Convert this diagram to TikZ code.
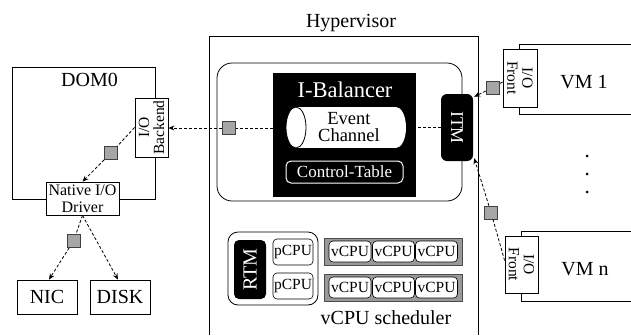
\documentclass[tikz,border=0pt]{standalone}
\usepackage{fontspec}
\setmainfont{Liberation Serif}
\usetikzlibrary{arrows.meta,calc}
\begin{document}
\begin{tikzpicture}[x=1pt,y=-1pt,
  frame/.style={draw=black, line width=0.8pt, inner sep=0pt},
  box/.style={draw=black, line width=0.8pt, fill=white, inner sep=0pt},
  sq/.style={draw=black!75, fill=black!35, line width=0.6pt, minimum size=13pt, inner sep=0pt},
  dl/.style={dash pattern=on 3pt off 2pt, line width=0.8pt},
  tip/.style={-{Stealth[length=6pt,width=5pt]}},
  fbig/.style={font=\fontsize{20}{22}\selectfont},
  fmid/.style={font=\fontsize{15.5}{15}\selectfont, align=center},
  fwhite/.style={text=white},
  cpubox/.style={draw=black, line width=0.6pt, fill=white, rounded corners=4pt, inner sep=0pt, font=\fontsize{15.5}{16}\selectfont},
  bar/.style={draw=black!70, fill=black!40, line width=0.8pt, inner sep=0pt, minimum width=138pt, minimum height=27pt}
]
\useasboundingbox (0,0) rectangle (631,335);

% Hypervisor
\draw[frame] (209,335) -- (209,36) -- (478,36) -- (478,335);
\node[fbig] (hvlbl) at (351,23) {Hypervisor};

% I-Balancer region
\node[frame, rounded corners=15pt, minimum width=245pt, minimum height=138pt] (ibframe) at (339.5,132) {};
\node[fill=black, inner sep=0pt, minimum width=143pt, minimum height=124pt] (ibal) at (344.5,135) {};
\node[font=\fontsize{22.5}{24}\selectfont, fwhite] (iblbl) at (345,90) {I-Balancer};

% Event channel cylinder
\fill[white] (296,107) rectangle (396,148);
\fill[white] (396,127.5) ellipse [x radius=10, y radius=20.5];
\fill[white] (296,127.5) ellipse [x radius=10, y radius=20.5];
\draw[black, line width=0.8pt] (296,127.5) ellipse [x radius=10, y radius=20.5];
\node[font=\fontsize{18.5}{17}\selectfont, align=center, inner sep=0pt] (evch) at (349,127.5) {Event\\Channel};

\node[draw=white, fill=black, line width=1pt, rounded corners=5pt, inner sep=0pt, minimum width=117pt, minimum height=22pt, fwhite, font=\fontsize{17}{18}\selectfont] (ctab) at (344.5,172) {Control-Table};

% ITM
\node[fill=black, rounded corners=6pt, inner sep=0pt, minimum width=32pt, minimum height=67pt] (itm) at (457,127.5) {};
\node[rotate=-90, fwhite, font=\fontsize{18}{18}\selectfont] (itmlbl) at (itm) {ITM};

% DOM0
\node[frame, minimum width=143pt, minimum height=132pt] (dom0) at (83.5,133) {};
\node[fbig] (dom0lbl) at (89.5,80) {DOM0};
\node[box, minimum width=33pt, minimum height=59pt] (backend) at (151.5,127.5) {};
\node[rotate=90, fmid] (backendlbl) at (backend) {I/O\\Backend};
\node[box, minimum width=73pt, minimum height=33pt] (driver) at (82.5,198.5) {};
\node[font=\fontsize{16}{17.5}\selectfont, align=center] (driverlbl) at (82.5,199) {Native I/O\\Driver};

\node[box, minimum width=60pt, minimum height=34pt, fbig] (nic) at (47,297) {NIC};
\node[box, minimum width=60pt, minimum height=34pt, fbig] (disk) at (120,297) {DISK};

% squares
\node[sq] (sq1) at (229,128) {};
\node[sq] (sq2) at (111,153) {};
\node[sq] (sq3) at (73.5,241) {};
\node[sq] (sq4) at (492.5,87.5) {};
\node[sq] (sq5) at (491,212.5) {};

% VMs
\draw[frame] (631,44) -- (519,44) -- (519,114) -- (631,114);
\node[box, minimum width=34pt, minimum height=58pt] (front1) at (520,78) {};
\node[rotate=-90, fmid] (front1lbl) at (front1) {I/O\\Front};
\node[fbig] (vm1lbl) at (584,82) {VM 1};

\draw[frame] (631,231) -- (521,231) -- (521,301) -- (631,301);
\node[box, minimum width=33pt, minimum height=57pt] (frontn) at (521.5,264.5) {};
\node[rotate=-90, fmid] (frontnlbl) at (frontn) {I/O\\Front};
\node[fbig] (vmnlbl) at (585,269) {VM n};

\fill (587,156) circle (1.5);
\fill (587,174) circle (1.5);
\fill (587,192) circle (1.5);

% connectors
\draw[dl] (itm.west) -- (ibal.east |- itm.west);
\draw[dl] (ibal.west |- sq1) -- (sq1);
\draw[dl, tip] (sq1) -- (backend.east |- sq1);
\draw[dl] (backend.west) -- (sq2);
\draw[dl, tip] (sq2) -- (driver.north);
\draw[dl] (driver.south) -- (sq3);
\draw[dl, tip] (sq3) -- ($(nic.north)+(2,0)$);
\draw[dl, tip] (driver.south) -- ($(disk.north)+(-2,0)$);
\draw[dl] ($(front1.west)+(0,4)$) -- (sq4);
\draw[dl, tip] (sq4) -- ($(itm.north east)+(1,3)$);
\draw[dl] ($(frontn.west)+(0,-4)$) -- (sq5);
\draw[dl, tip] (sq5) -- ($(itm.south east)+(1,-3)$);

% vCPU scheduler
\node[frame, rounded corners=10pt, minimum width=90pt, minimum height=73pt] (rtmgrp) at (273,268.5) {};
\node[fill=black, rounded corners=5pt, inner sep=0pt, minimum width=32pt, minimum height=59pt] (rtm) at (250,269.5) {};
\node[rotate=90, fwhite, fbig] (rtmlbl) at (rtm) {RTM};
\node[cpubox, minimum width=40pt, minimum height=26pt] (pcpu1) at (293,252) {pCPU};
\node[cpubox, minimum width=40pt, minimum height=26pt] (pcpu2) at (293,286) {pCPU};

\node[bar] (bar1) at (393,251.5) {};
\node[bar] (bar2) at (393,287.5) {};
\node[cpubox, minimum width=42pt, minimum height=21pt] (v11) at (350,251.5) {vCPU};
\node[cpubox, minimum width=42pt, minimum height=21pt] (v12) at (393.5,251.5) {vCPU};
\node[cpubox, minimum width=42pt, minimum height=21pt] (v13) at (436.5,251.5) {vCPU};
\node[cpubox, minimum width=42pt, minimum height=21pt] (v21) at (350,287.5) {vCPU};
\node[cpubox, minimum width=42pt, minimum height=21pt] (v22) at (393.5,287.5) {vCPU};
\node[cpubox, minimum width=42pt, minimum height=21pt] (v23) at (436.5,287.5) {vCPU};
\node[fbig] (schedlbl) at (386,318) {vCPU scheduler};
\end{tikzpicture}
\end{document}
